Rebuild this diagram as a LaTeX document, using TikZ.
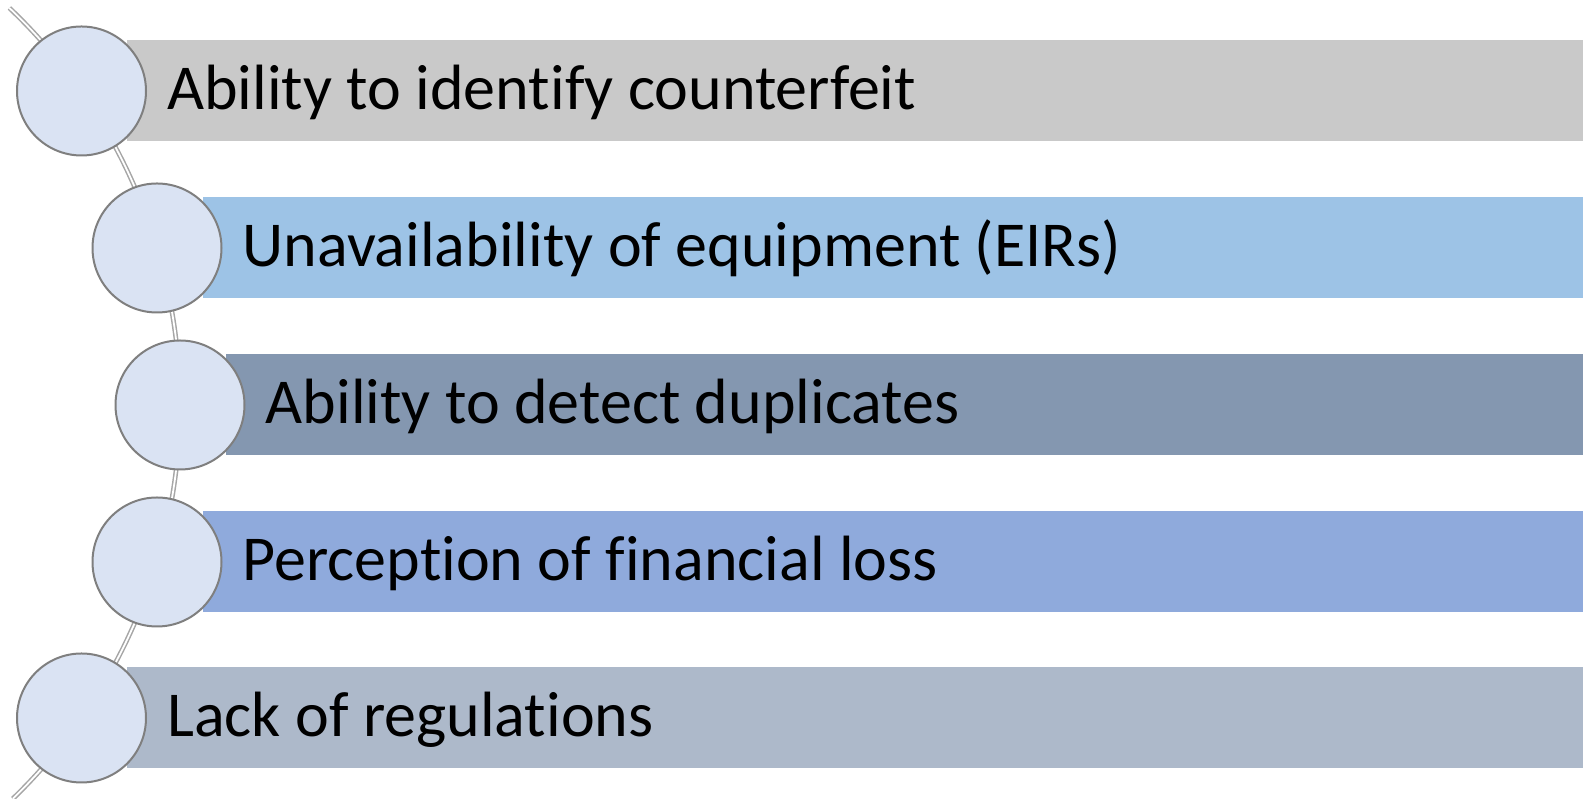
\documentclass[tikz,border=0pt]{standalone}
\usepackage{fontspec}
\setmainfont{Carlito}[Ligatures={NoCommon,NoContextual},RawFeature={-liga;-clig;-dlig}]
\usetikzlibrary{calc}
\definecolor{barA}{HTML}{C9C9C9}
\definecolor{barB}{HTML}{9DC3E6}
\definecolor{barC}{HTML}{8497B0}
\definecolor{barD}{HTML}{8FAADC}
\definecolor{barE}{HTML}{ADB9CA}
\definecolor{circfill}{HTML}{DAE3F3}
\definecolor{circline}{HTML}{7F7F7F}
\definecolor{arcline}{HTML}{A6A6A6}
\begin{document}
\begin{tikzpicture}[x=1pt,y=1pt,
  bubble/.style={circle,draw=circline,fill=circfill,line width=2pt,minimum size=129pt,inner sep=0pt},
  bar/.style={fill=#1,draw=none},
  label/.style={anchor=base west,inner sep=0pt,font=\fontsize{64}{68}\selectfont,text=black},
  spine/.style={draw=arcline,line width=1.5pt,double=white,double distance=1.8pt}]
\useasboundingbox (0,0) rectangle (1583,799);
% spine arc
\coordinate (arcc) at (-367.3,394);
\coordinate (arcstart) at ($(arcc)+(46.5:547.3)$);
\path[spine] (arcstart) arc[start angle=46.5,end angle=-46,radius=547.3];
% bars
\foreach \i/\cx/\cy/\col in {1/81.5/708/barA,2/157/551/barB,3/180/394/barC,4/157/237/barD,5/81.5/81/barE}{
  \path[bar=\col] (\cx+45.5,\cy-50.5) rectangle (1583,\cy+50.5);
  \node[bubble] (c\i) at (\cx,\cy) {};
  \coordinate (t\i) at (\cx+85.5,\cy-19);
}
\node[label] (l1) at (t1) {Ability to identify counterfeit};
\node[label] (l2) at (t2) {Unavailability of equipment (EIRs)};
\node[label] (l3) at (t3) {Ability to detect duplicates};
\node[label] (l4) at (t4) {Perception of financial loss};
\node[label] (l5) at (t5) {Lack of regulations};
\end{tikzpicture}
\end{document}
